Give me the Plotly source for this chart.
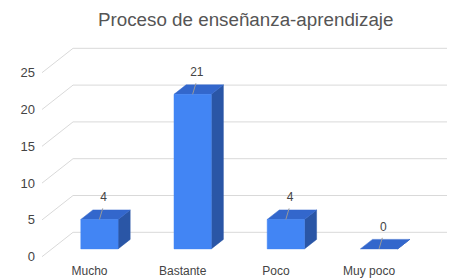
import plotly.graph_objects as go

categories = ["Mucho", "Bastante", "Poco", "Muy poco"]
values = [4, 21, 4, 0]
y_ticks = [0, 5, 10, 15, 20, 25]
title_text = "Proceso de enseñanza-aprendizaje"

# 3D look parameters (data units)
DX, DY = 0.333, 3.315          # shift of a full depth (front plane -> back wall)
DF, DB = 0.32, 0.71            # bar front / back depth
W = 0.40                       # bar width
X0, X1 = -0.5097, 3.8358       # x-axis range
Y0, Y1 = -0.72, 28.9           # y-axis range

FRONT = "#4285f4"
TOP = "#3367cc"
SIDE = "#2a56a6"
GRID = "#d9d9d9"
TXT = "#444444"


def P(x, y, d):
    return x + d * DX, y + d * DY


fig = go.Figure()

# grid: diagonal from front plane to back wall, then horizontal along back wall
for t in y_ticks:
    fx, fy = P(X0, t, 0)
    bx, by = P(X0, t, 1)
    fig.add_trace(go.Scatter(x=[fx, bx, X1], y=[fy, by, by], mode="lines",
                             line=dict(color=GRID, width=1), hoverinfo="skip",
                             showlegend=False))


def poly(pts, color):
    xs = [p[0] for p in pts] + [pts[0][0]]
    ys = [p[1] for p in pts] + [pts[0][1]]
    fig.add_trace(go.Scatter(x=xs, y=ys, mode="lines", fill="toself",
                             fillcolor=color, line=dict(color=color, width=0.5),
                             hoverinfo="skip", showlegend=False))


for i, v in enumerate(values):
    l, r = i - W / 2, i + W / 2
    # side face
    poly([P(r, 0, DF), P(r, v, DF), P(r, v, DB), P(r, 0, DB)], SIDE)
    # top face
    poly([P(l, v, DF), P(r, v, DF), P(r, v, DB), P(l, v, DB)], TOP)
    # front face
    if v > 0:
        poly([P(l, 0, DF), P(r, 0, DF), P(r, v, DF), P(l, v, DF)], FRONT)

# value labels with leader lines
for i, v in enumerate(values):
    cx, cy = P(i, v, DF)
    fig.add_trace(go.Scatter(x=[cx, cx + 0.035], y=[cy, cy + 1.5], mode="lines",
                             line=dict(color="#999999", width=1),
                             hoverinfo="skip", showlegend=False))
    fig.add_trace(go.Scatter(x=[cx + 0.045], y=[cy + 2.9], mode="text",
                             text=[str(v)], textposition="middle center",
                             textfont=dict(size=12, color=TXT,
                                           family="Liberation Sans, Arial"),
                             hoverinfo="skip", showlegend=False, cliponaxis=False))

fig.update_layout(
    width=470, height=280,
    margin=dict(l=42, r=23, t=44, b=18),
    paper_bgcolor="white", plot_bgcolor="white",
    font=dict(family="Liberation Sans, Arial", color=TXT),
    title=dict(text=title_text, x=0.503, xanchor="center", y=0.93, yanchor="middle",
               xref="paper",
               font=dict(size=18.8, color="#555555", family="Liberation Sans, Arial")),
    xaxis=dict(range=[X0, X1], tickvals=list(range(len(categories))),
               ticktext=categories, showgrid=False, zeroline=False,
               showline=False, ticks="", automargin=False,
               tickfont=dict(size=12, color=TXT), fixedrange=True),
    yaxis=dict(range=[Y0, Y1], tickvals=y_ticks, ticktext=[str(t) for t in y_ticks],
               showgrid=False, zeroline=False, showline=False, ticks="",
               automargin=False, ticklabelstandoff=6,
               tickfont=dict(size=13, color=TXT), fixedrange=True),
    showlegend=False,
)

fig.write_html("out.html", config={"displayModeBar": False},
               post_script="document.body.style.margin='0';document.body.style.overflow='hidden';")
